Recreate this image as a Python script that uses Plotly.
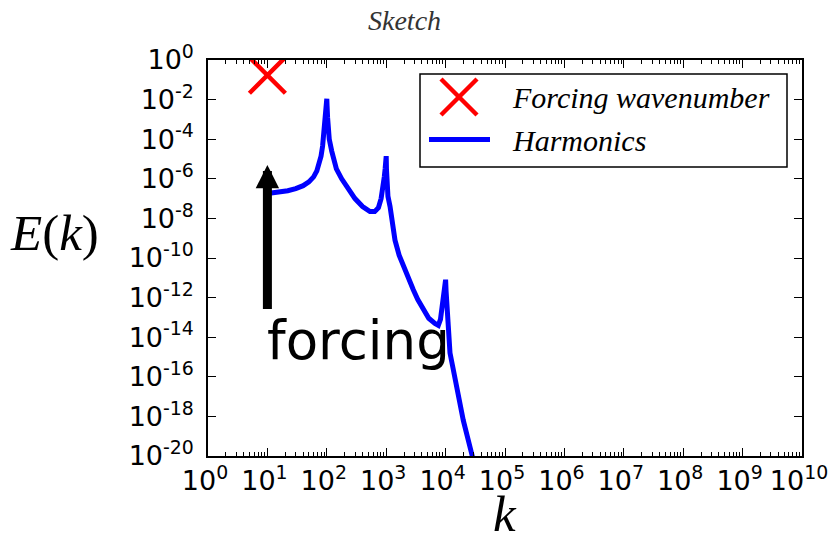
import math
import plotly.graph_objects as go

# Forcing wavenumber marker
k_forcing = [10]
E_forcing = [0.17]

# Harmonic energy spectrum E(k), cusps at k = 1e2, 1e3, 1e4
k_harm = [10, 15, 22, 30, 40, 50, 60, 68, 75, 80, 85, 90, 94, 97, 99, 100,
          101, 103, 106, 110, 121, 130, 145, 178, 220, 298, 400, 533, 640, 740,
          820, 870, 895, 930, 960, 985, 1000,
          1010, 1030, 1070, 1160, 1250, 1406, 1650, 1941, 2400, 2858, 3400, 4217,
          5200, 6607, 7540, 8200, 8600, 9100, 9500, 9800, 10000,
          10200, 10420, 11000, 11860, 13000, 15390, 19860, 27500, 32000]
E_harm = [1.8e-7, 2.0e-7, 2.5e-7, 3.2e-7, 4.5e-7, 7.0e-7, 1.25e-6, 2.5e-6, 6.3e-6,
          1.4e-5, 4.5e-5, 2.0e-4, 8.0e-4, 2.8e-3, 7.0e-3, 1.1e-2,
          5.0e-3, 1.3e-3, 3.2e-4, 1.0e-4, 2.5e-5, 9.0e-6, 3.2e-6, 1.0e-6, 3.5e-7,
          1.0e-7, 4.0e-8, 2.2e-8, 2.2e-8, 3.5e-8,
          1.0e-7, 2.5e-7, 5.0e-7, 1.3e-6, 3.2e-6, 7.0e-6, 1.4e-5,
          3.2e-6, 6.0e-7, 1.3e-7, 4.0e-8, 6.3e-9, 8.0e-10, 1.4e-10, 4.0e-11,
          8.0e-12, 2.5e-12, 8.0e-13, 2.5e-13,
          9.0e-14, 5.0e-14, 4.0e-14, 8.0e-14, 2.5e-13, 8.0e-13, 2.0e-12, 4.5e-12, 8.0e-12,
          2.0e-12, 5.0e-13, 2.5e-14, 1.6e-15, 4.0e-16, 3.2e-17, 6.3e-19, 1.3e-20, 2.0e-21]

# Axis ticks
x_tick_vals = [10 ** p for p in range(0, 11)]
x_tick_text = [f"10<sup>{p}</sup>" for p in range(0, 11)]
y_tick_vals = [10.0 ** p for p in range(0, -21, -2)]
y_tick_text = [f"10<sup>{p}</sup>" for p in range(0, -21, -2)]

# Forcing arrow and its label
arrow_k = 10
arrow_from = 10 ** -12.65
arrow_to = 10 ** -5.3
forcing_label_E = 10 ** -14.15

# Plot area in pixels (used to place layout-level items)
L, T, W, H = 208, 60, 594, 396


def px(xp):
    return (xp - L) / W


def py(yp):
    return 1 - (yp - T) / H


fig = go.Figure()
fig.add_trace(go.Scatter(
    x=k_forcing, y=E_forcing, mode="markers", name="Forcing wavenumber",
    marker=dict(symbol="x-thin", size=36, line=dict(color="#ff0000", width=4.5),
                color="#ff0000"),
    showlegend=False,
))
fig.add_trace(go.Scatter(
    x=k_harm, y=E_harm, mode="lines", name="Harmonics",
    line=dict(color="#0000ff", width=5),
    showlegend=False,
))

# Arrow pointing up at the forcing wavenumber
fig.add_annotation(
    x=math.log10(arrow_k), y=math.log10(arrow_to),
    ax=math.log10(arrow_k), ay=math.log10(arrow_from),
    xref="x", yref="y", axref="x", ayref="y",
    text="", showarrow=True, arrowhead=2, arrowwidth=9, arrowsize=0.52,
    arrowcolor="black",
)
fig.add_annotation(
    x=math.log10(arrow_k), y=math.log10(forcing_label_E), xref="x", yref="y",
    text="forcing", showarrow=False, xanchor="left", yanchor="middle",
    xshift=-2,
    font=dict(family="DejaVu Sans", size=53, color="black"),
)

# Axis titles and figure title
label_font = dict(family="Liberation Serif", size=51, color="black")
fig.add_annotation(
    x=px(54), y=py(233), xref="paper", yref="paper", xanchor="center", yanchor="middle",
    text="<i>E</i>(<i>k</i>)", showarrow=False, font=label_font,
)
fig.add_annotation(
    x=px(505), y=py(514), xref="paper", yref="paper", xanchor="center", yanchor="middle",
    text="<i>k</i>", showarrow=False, font=label_font, borderpad=0,
)
fig.add_annotation(
    x=px(404), y=py(20), xref="paper", yref="paper", xanchor="center", yanchor="middle",
    text="<i>Sketch</i>", showarrow=False,
    font=dict(family="Liberation Serif", size=28, color="#333333"),
)

# Legend box
legend_font = dict(family="Liberation Serif", size=30, color="black")
fig.add_shape(type="rect", xref="paper", yref="paper",
              x0=px(420), x1=px(787), y0=py(167), y1=py(74),
              line=dict(color="black", width=1.5), fillcolor="white", layer="above")
for (xa, ya, xb, yb) in [(441, 79, 477, 115), (441, 115, 477, 79)]:
    fig.add_shape(type="line", xref="paper", yref="paper",
                  x0=px(xa), y0=py(ya), x1=px(xb), y1=py(yb),
                  line=dict(color="#ff0000", width=4.5), layer="above")
fig.add_shape(type="line", xref="paper", yref="paper",
              x0=px(429), y0=py(139.5), x1=px(490), y1=py(139.5),
              line=dict(color="#0000ff", width=5), layer="above")
for trace, yc in [(fig.data[0], 97), (fig.data[1], 140)]:
    fig.add_annotation(
        x=px(510), y=py(yc), xref="paper", yref="paper", xanchor="left", yanchor="middle",
        text=f"<i>{trace.name}</i>", showarrow=False, font=legend_font,
    )

axis_common = dict(
    showline=True, linecolor="black", linewidth=1.5, mirror="ticks",
    ticks="inside", ticklen=8, tickwidth=1.2, tickcolor="black",
    showgrid=False, zeroline=False, automargin=False,
    tickfont=dict(family="DejaVu Sans", size=27, color="black"),
    ticklabeloverflow="allow",
)

fig.update_layout(
    width=830, height=538,
    margin=dict(l=L, r=830 - L - W, t=T, b=538 - T - H),
    paper_bgcolor="white", plot_bgcolor="white",
    showlegend=False,
    xaxis=dict(
        type="log", range=[0, 10], tickmode="array",
        tickvals=x_tick_vals, ticktext=x_tick_text, ticklabelstandoff=0,
        ticklabelshift=-3,
        minor=dict(ticks="inside", ticklen=4, tickcolor="black", dtick="D1", showgrid=False),
        **axis_common,
    ),
    yaxis=dict(
        type="log", range=[-20, 0], tickmode="array",
        tickvals=y_tick_vals, ticktext=y_tick_text, ticklabelstandoff=7,
        **axis_common,
    ),
)

fig.write_html("out.html")
